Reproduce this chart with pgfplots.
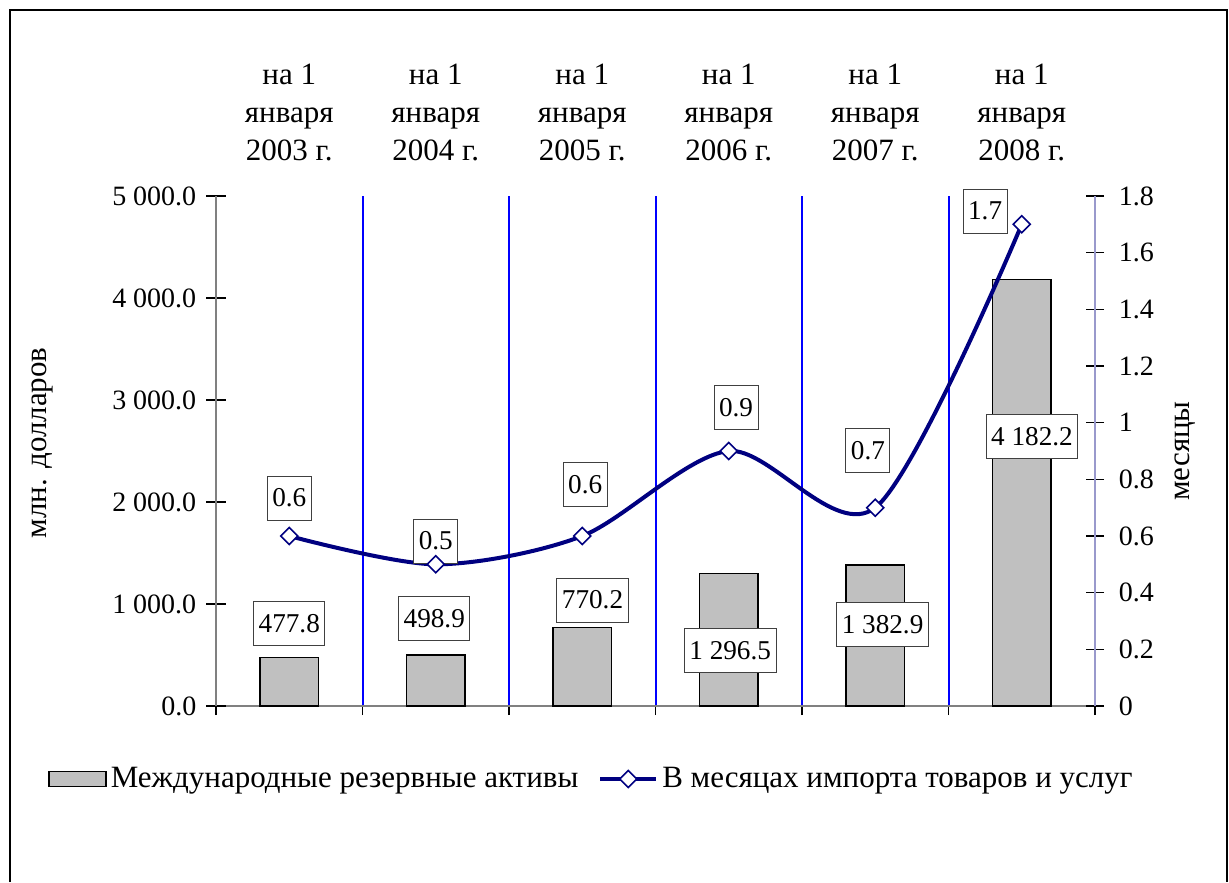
\documentclass[border=0pt]{standalone}
\usepackage{pgfplots}
\pgfplotsset{compat=1.18}
\usepackage{fontspec}
\setmainfont{Liberation Serif}
\definecolor{barfill}{HTML}{C0C0C0}
\definecolor{navyline}{HTML}{000080}
\definecolor{axgray}{HTML}{808080}
\definecolor{raxis}{HTML}{9999CC}
\newcommand{\bigf}{\fontsize{15.5pt}{19pt}\selectfont}
\tikzset{lab/.style={draw=black!75, fill=white, line width=0.5pt, inner xsep=2.5pt,
  inner ysep=0pt, minimum height=22pt, font=\fontsize{13.6pt}{16pt}\selectfont},
  top/.style={anchor=south, align=center, inner sep=0pt, yshift=17.5pt, font=\bigf}}
\pgfplotsset{
  barleg/.style={legend image code/.code={\draw[##1] (0pt,-3.75pt) rectangle (28.5pt,3.75pt);}},
  lineleg/.style={legend image code/.code={\draw[mark repeat=2,mark phase=2,##1] plot coordinates {(0pt,0pt)(14pt,0pt)(28pt,0pt)};}}
}
\begin{document}
\fontsize{14pt}{19pt}\selectfont
\begin{tikzpicture}
\useasboundingbox (0pt,0pt) rectangle (614.5pt,-441pt);
\draw[line width=0.6pt] (5pt,-441pt) -- (5pt,-5pt) -- (613.5pt,-5pt) -- (613.5pt,-441pt);
\pgfplotsset{common/.style={scale only axis, width=439.5pt, height=255pt,
  at={(108pt,-98pt)}, anchor=north west, xmin=-0.5, xmax=5.5, clip=false,
  /pgf/number format/assume math mode=true,
  tick style={black, line width=0.6pt}}}
% grid and x ticks
\begin{axis}[common, ymin=0, ymax=1, axis x line*=bottom, axis y line=none,
  xtick={0.5,1.5,2.5,3.5,4.5}, xticklabels={}, extra x ticks={-0.5,5.5},
  extra x tick labels={}, extra x tick style={grid=none},
  xmajorgrids, grid style={blue, line width=1pt},
  tick align=outside, major tick length=4.5pt,
  x axis line style={axgray, line width=0.8pt}]
\end{axis}
% bars, left axis
\begin{axis}[common, ymin=0, ymax=5000, axis x line=none, axis y line*=left,
  xtick=\empty, ytick={0,1000,2000,3000,4000,5000}, scaled y ticks=false,
  yticklabel style={/pgf/number format/.cd, fixed, fixed zerofill, precision=1, 1000 sep={\ }},
  tick align=center, major tick length=10pt,
  y axis line style={axgray, line width=0.8pt},
  ylabel={млн. долларов},
  ylabel style={at={([xshift=-87pt,yshift=4pt]axis description cs:0,0.5)}, anchor=center, font=\bigf},
  ybar, bar width=0.4]
\addplot[fill=barfill, draw=black, line width=0.7pt] coordinates
  {(0,477.8)(1,498.9)(2,770.2)(3,1296.5)(4,1382.9)(5,4182.2)};
\node[lab] at (axis cs:0,804) {477.8};
\node[lab] at (axis cs:0.99,858) {498.9};
\node[lab] at (axis cs:2.07,1039) {770.2};
\node[lab] at (axis cs:3.01,544) {1 296.5};
\node[lab] at (axis cs:4.05,799) {1 382.9};
\node[lab] at (axis cs:5.07,2642) {4 182.2};
\node[top] at (axis cs:0,5000) {на 1\\января\\2003 г.};
\node[top] at (axis cs:1,5000) {на 1\\января\\2004 г.};
\node[top] at (axis cs:2,5000) {на 1\\января\\2005 г.};
\node[top] at (axis cs:3,5000) {на 1\\января\\2006 г.};
\node[top] at (axis cs:4,5000) {на 1\\января\\2007 г.};
\node[top] at (axis cs:5,5000) {на 1\\января\\2008 г.};
\end{axis}
% line, right axis
\begin{axis}[common, ymin=0, ymax=1.8, axis x line=none, axis y line*=right,
  xtick=\empty, ytick={0,0.2,0.4,0.6,0.8,1,1.2,1.4,1.6,1.8},
  yticklabel style={xshift=2.5pt},
  tick align=center, major tick length=9pt,
  y axis line style={raxis, line width=1.4pt},
  ylabel={месяцы},
  ylabel style={at={([xshift=45pt]axis description cs:1,0.5)}, anchor=center, font=\bigf},
  legend style={at={([xshift=-84pt,yshift=-36.5pt]axis description cs:0,0)},
    anchor=west, draw=none, fill=none, inner sep=0pt, font=\bigf,
    /tikz/every even column/.style={column sep=8pt},
    nodes={inner xsep=2pt, inner ysep=0pt}},
  legend columns=2, legend cell align=left]
\addlegendimage{fill=barfill, draw=black, line width=0.7pt, barleg}
\addlegendentry{Международные резервные активы}
\addplot[navyline, line width=2pt, smooth, mark=square*, mark size=3pt,
  mark options={rotate=45, fill=white, draw=navyline, line width=0.8pt}, lineleg]
  coordinates {(0,0.6)(1,0.5)(2,0.6)(3,0.9)(4,0.7)(5,1.7)};
\addlegendentry{В месяцах импорта товаров и услуг}
\node[lab] at (axis cs:0,0.734) {0.6};
\node[lab] at (axis cs:1,0.582) {0.5};
\node[lab] at (axis cs:2.02,0.783) {0.6};
\node[lab] at (axis cs:3.05,1.053) {0.9};
\node[lab] at (axis cs:3.95,0.903) {0.7};
\node[lab] at (axis cs:4.75,1.747) {1.7};
\end{axis}
\end{tikzpicture}
\end{document}
